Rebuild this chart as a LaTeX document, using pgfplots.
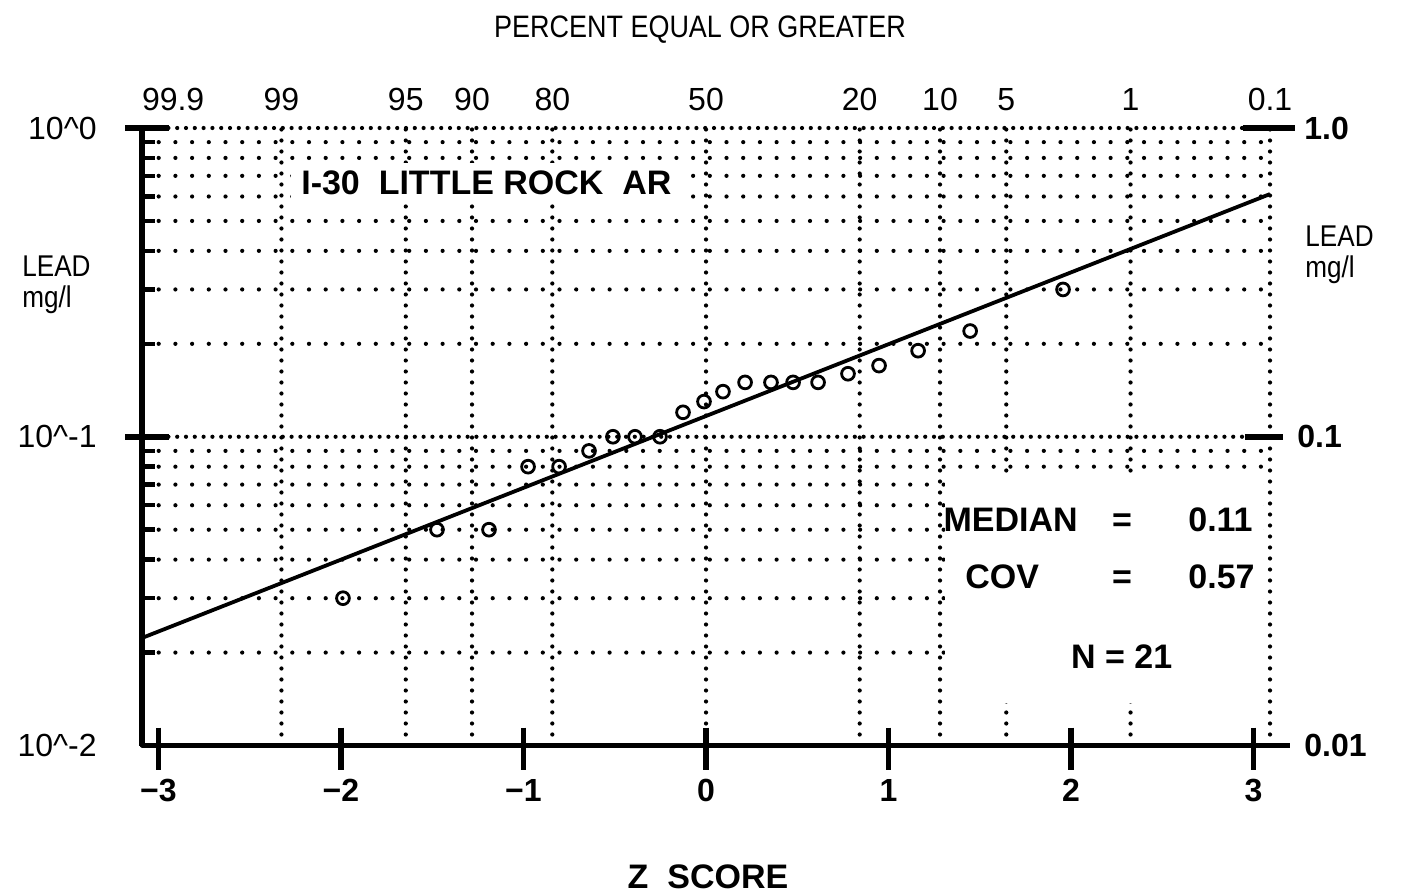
\documentclass[border=0pt]{standalone}
\usepackage{pgfplots}
\pgfplotsset{compat=1.18}
\usepackage{fontspec}
\setmainfont{Liberation Sans}
\newfontfamily\cf{Liberation Sans}[FakeStretch=0.87]
\newcommand{\fs}[1]{\fontsize{#1}{#1}\selectfont}
\begin{document}
\begin{tikzpicture}
% ---------- background: dotted grid, top percent scale, right scale ----------
\begin{axis}[
  at={(71pt,73.75pt)}, anchor=south west,
  width=564pt, height=308.75pt, scale only axis,
  xmin=-3.09, xmax=3.09, ymin=0.01, ymax=1, ymode=log,
  axis line style={draw=none},
  tick style={draw=none}, minor tick style={draw=none},
  xtick={-3.09,-2.326,-1.645,-1.282,-0.842,0,0.842,1.282,1.645,2.326,3.09},
  xticklabels={\makebox[0pt][l]{99.9},99,95,90,80,50,20,10,5,1,0.1},
  xticklabel pos=upper,
  xticklabel style={font=\fs{16}, anchor=base, inner sep=0pt, yshift=8.5pt},
  ytick={0.01,0.1,1},
  minor ytick={0.02,0.03,0.04,0.05,0.06,0.07,0.08,0.09,0.2,0.3,0.4,0.5,0.6,0.7,0.8,0.9},
  yticklabels={0.01,\hspace*{-3.5pt}0.1,1.0},
  yticklabel pos=right,
  yticklabel style={font=\bfseries\fs{16}, anchor=west, inner sep=0pt, xshift=17pt},
  xmajorgrids, ymajorgrids, yminorgrids,
  major x grid style={black, line width=2.1pt, line cap=round, dash pattern=on 0pt off 5.5pt},
  major y grid style={black, line width=2.1pt, line cap=round, dash pattern=on 0pt off 4.4pt},
  minor y grid style={black, line width=2.1pt, line cap=round, dash pattern=on 0pt off 8.35pt},
  title={PERCENT EQUAL OR GREATER},
  every axis title/.style={at={(axis description cs:0.5,1)}, anchor=base, yshift=45pt, xshift=-3pt, font=\cf\fs{15.5}},
  ylabel={LEAD\\mg/l},
  every axis y label/.style={at={(axis description cs:1,1)}, anchor=north west, align=left, inner sep=0pt, xshift=17.5pt, yshift=-48.5pt, font=\cf\fontsize{15}{15.5}\selectfont},
]
\fill[white] (axis cs:1.31,0.0753) rectangle (axis cs:3.05,0.01377);
\end{axis}
% ---------- main axis: data, bottom/left scales ----------
\begin{axis}[
  at={(71pt,73.75pt)}, anchor=south west,
  width=564pt, height=308.75pt, scale only axis,
  xmin=-3.09, xmax=3.09, ymin=0.01, ymax=1, ymode=log,
  clip=false,
  axis line style={draw=none},
  tick style={draw=none}, minor tick style={draw=none},
  xtick={-3,-2,-1,0,1,2,3},
  xticklabels={−3,−2,−1,0,1,2,3},
  xticklabel pos=lower,
  xticklabel style={font=\bfseries\fs{16}, anchor=base, inner sep=0pt, yshift=-28pt},
  ytick={0.01,0.1,1},
  yticklabels={10\textasciicircum -2,10\textasciicircum -1,10\textasciicircum 0},
  yticklabel pos=left,
  yticklabel style={font=\fs{16}, anchor=east, inner sep=0pt, xshift=-22.5pt},
  xlabel={Z\ \ SCORE},
  every axis x label/.style={at={(axis description cs:0.5,0)}, anchor=base, yshift=-71.25pt, xshift=1pt, font=\bfseries\fs{17}},
  ylabel={LEAD\\mg/l},
  every axis y label/.style={at={(axis description cs:0,1)}, anchor=north west, align=left, inner sep=0pt, xshift=-60pt, yshift=-63.5pt, font=\cf\fontsize{15}{15.5}\selectfont},
]
% axis lines and ticks
\draw[line width=3pt] (axis cs:-3.09,0.01) -- (axis cs:-3.09,1);
\draw[line width=2.5pt] (axis cs:-3.09,0.01) -- ([xshift=10pt]axis cs:3.09,0.01);
\pgfplotsinvokeforeach{-3,-2,-1,0,1,2,3}{
  \draw[line width=2.6pt] ([yshift=9pt]axis cs:#1,0.01) -- ([yshift=-12pt]axis cs:#1,0.01);
}
\pgfplotsinvokeforeach{0.1,1}{
  \draw[line width=3pt] ([xshift=-8.5pt]axis cs:-3.09,#1) -- ([xshift=13.5pt]axis cs:-3.09,#1);
}
\pgfplotsinvokeforeach{0.02,0.03,0.04,0.05,0.06,0.07,0.08,0.09,0.2,0.3,0.4,0.5,0.6,0.7,0.8,0.9}{
  \draw[line width=2.2pt] (axis cs:-3.09,#1) -- ([xshift=6.5pt]axis cs:-3.09,#1);
}
\draw[line width=3pt] ([xshift=-13.5pt]axis cs:3.09,1) -- ([xshift=12.5pt]axis cs:3.09,1);
\draw[line width=3pt] ([xshift=-12.5pt]axis cs:3.09,0.1) -- ([xshift=6.5pt]axis cs:3.09,0.1);
% fitted line
\addplot[black, line width=1.9pt] coordinates {(-3.09,0.0223) (3.09,0.611)};
% observations
\addplot[black, only marks, mark=o, mark size=3.2pt, line width=1.4pt] coordinates {
(-1.989,0.03) (-1.474,0.05) (-1.189,0.05) (-0.975,0.08) (-0.805,0.08) (-0.641,0.09)
(-0.510,0.10) (-0.389,0.10) (-0.252,0.10) (-0.126,0.12) (-0.011,0.13) (0.093,0.14)
(0.214,0.15) (0.356,0.15) (0.477,0.15) (0.614,0.15) (0.778,0.16) (0.948,0.17)
(1.162,0.19) (1.447,0.22) (1.956,0.30)};
% annotations
\node[font=\bfseries\fs{17}, fill=white, inner xsep=5pt, inner ysep=4pt] at (axis cs:-1.203,0.664) {I-30\ \ LITTLE ROCK\ \ AR};
\node[font=\bfseries\fs{17}, anchor=west, inner sep=0pt] at (axis cs:1.299,0.0539) {MEDIAN};
\node[font=\bfseries\fs{17}, inner sep=0pt] at (axis cs:2.279,0.0539) {\vphantom{M}=};
\node[font=\bfseries\fs{17}, anchor=east, inner sep=0pt] at (axis cs:2.997,0.0539) {0.11};
\node[font=\bfseries\fs{17}, anchor=west, inner sep=0pt] at (axis cs:1.419,0.03524) {COV};
\node[font=\bfseries\fs{17}, inner sep=0pt] at (axis cs:2.279,0.03524) {\vphantom{M}=};
\node[font=\bfseries\fs{17}, anchor=east, inner sep=0pt] at (axis cs:3.008,0.03524) {0.57};
\node[font=\bfseries\fs{17}, inner sep=0pt] at (axis cs:2.277,0.0194) {N = 21};
\end{axis}
\pgfresetboundingbox
\path[use as bounding box] (0,0) rectangle (700.5pt,446.5pt);
\end{tikzpicture}
\end{document}
